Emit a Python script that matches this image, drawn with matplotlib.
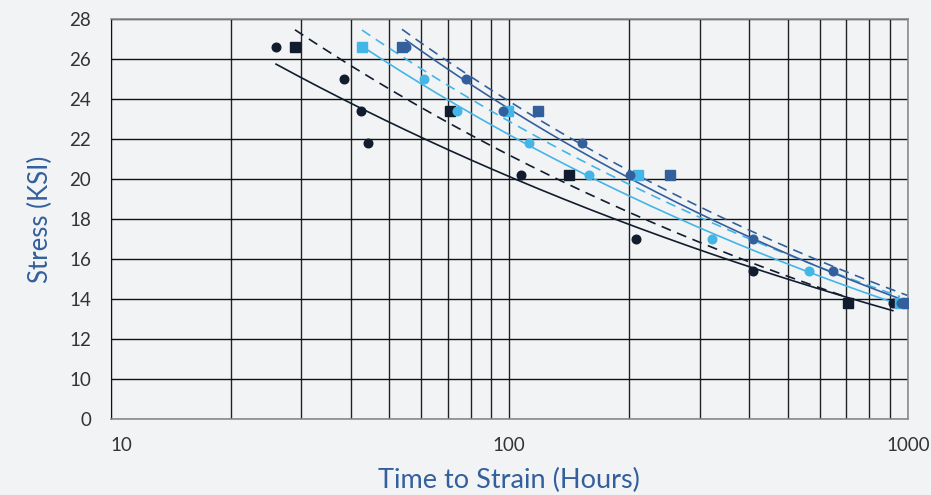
import numpy as np
import matplotlib
matplotlib.use("Agg")
import matplotlib.pyplot as plt
from matplotlib.ticker import FixedLocator, NullFormatter

# stress levels (KSI)
stress8 = [26.6, 25.0, 23.4, 21.8, 20.2, 17.0, 15.4, 13.8]
stress4 = [26.6, 23.4, 20.2, 13.8]

# hours to strain
dark_circ = [26, 38.5, 42.5, 44.2, 107, 208, 408, 916]
dark_sq = [29, 71, 141, 707]
light_circ = [42.7, 61, 74, 112, 158, 322, 563, 955]
light_sq = [42.7, 99, 210, 955]
mid_circ = [55, 78, 96.6, 152, 201, 408, 649, 960]
mid_sq = [53.8, 118, 253, 995]

DARK = "#111c2e"
LIGHT = "#43b5e6"
MID = "#33609c"
BG = "#f2f3f5"

series = [
    (dark_circ, stress8, DARK, "o", "-"),
    (dark_sq, stress4, DARK, "s", "--"),
    (light_circ, stress8, LIGHT, "o", "-"),
    (light_sq, stress4, LIGHT, "s", "--"),
    (mid_circ, stress8, MID, "o", "-"),
    (mid_sq, stress4, MID, "s", "--"),
]

fig = plt.figure(figsize=(9.31, 4.95), dpi=100, facecolor=BG)
ax = fig.add_axes([0.1188, 0.1535, 0.8565, 0.8081], facecolor=BG)

for xs, ys, col, mk, ls in series:
    xs = np.array(xs)
    ys = np.array(ys)
    # power trendline
    b, a = np.polyfit(np.log(xs), np.log(ys), 1)
    xf = np.logspace(np.log10(xs.min()), np.log10(xs.max()), 200)
    yf = np.exp(a) * xf ** b
    if ls == "--":
        ax.plot(xf, yf, color=col, lw=1.2, ls=ls, dashes=(6, 4), zorder=3)
    else:
        ax.plot(xf, yf, color=col, lw=1.2, zorder=3)
for xs, ys, col, mk, ls in series:
    ax.plot(xs, ys, ls="none", marker=mk, color=col,
            markersize=6.2 if mk == "o" else 6.5, zorder=4)

ax.set_xscale("log")
ax.set_xlim(10, 1000)
# y axis is broken: bottom gridline stands for 0
ax.set_ylim(8, 28)

yt = [8] + list(range(10, 29, 2))
ax.set_yticks(yt)
ax.set_yticklabels(["0"] + [str(v) for v in range(10, 29, 2)])
ax.xaxis.set_major_locator(FixedLocator([10, 100, 1000]))
ax.set_xticklabels(["10", "100", "1000"])
ax.xaxis.set_minor_locator(FixedLocator([k * m for m in (10, 100) for k in range(2, 10)]))
ax.xaxis.set_minor_formatter(NullFormatter())

ax.grid(True, which="both", axis="x", color="#222222", lw=1.0, zorder=1)
ax.grid(True, which="major", axis="y", color="#111111", lw=1.0, zorder=1)

ax.tick_params(axis="both", which="both", length=0, labelsize=13.5,
               labelcolor="#333333")
ax.tick_params(axis="x", pad=13)
ax.tick_params(axis="y", pad=14)
for lab in ax.get_xticklabels() + ax.get_yticklabels():
    lab.set_fontfamily("Lato")
xl = ax.get_xticklabels()
xl[0].set_horizontalalignment("left")

for s in ["top", "right", "bottom"]:
    ax.spines[s].set_color("#8c8c8c")
    ax.spines[s].set_linewidth(1.2)
ax.spines["left"].set_color("#111111")

ax.set_ylabel("Stress (KSI)", fontsize=18.5, color=MID, family="Lato", labelpad=12)
ax.set_xlabel("Time to Strain (Hours)", fontsize=19.5, color=MID, family="Lato", labelpad=10)

fig.savefig("out.png", dpi=100, facecolor=BG)
